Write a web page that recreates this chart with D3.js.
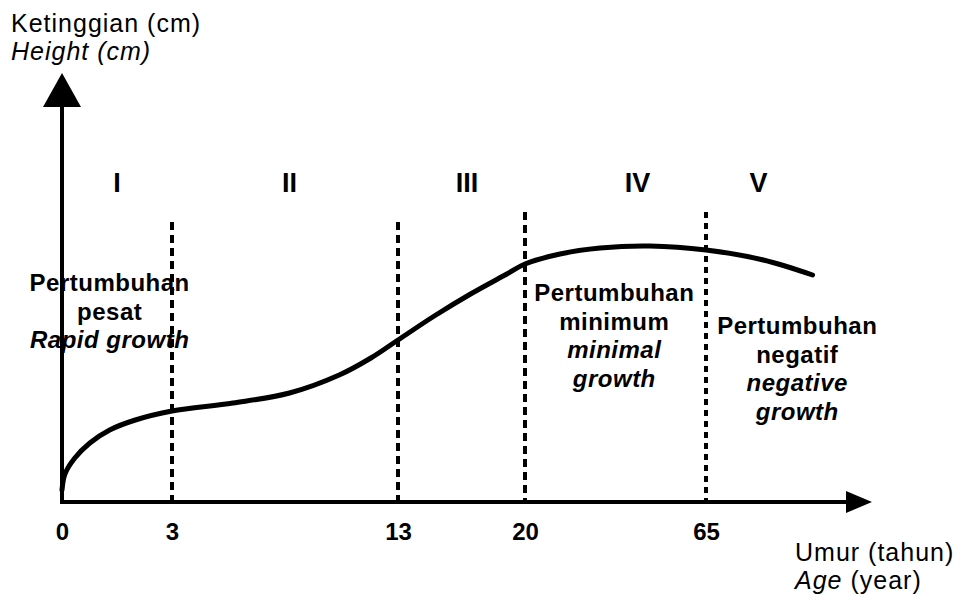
<!DOCTYPE html>
<html lang = 'id'>
    <head>
        <meta charset = 'UTF-8'>
        <title>Growth Curve</title>
        <script src="https://d3js.org/d3.v7.min.js"></script>
        <style>
            body {
                margin: 0;
                background-color: white;
                font-family: 'Liberation Sans', Arial, sans-serif;
            }
            .phase {
                font-size: 27px;
                font-weight: bold;
            }
            .note {
                font-size: 24px;
                font-weight: bold;
                letter-spacing: 0.5px;
            }
            .title {
                font-size: 25px;
                letter-spacing: 1px;
            }
        </style>
    </head>
    <body>
        <svg id = 'chart' width = '960' height = '597'></svg>
        <script>
            // growth curve (age in years, relative height)
            let ages    = [0, 0.08, 0.35, 0.76, 1.3, 2, 3, 5.7, 8.2, 10.4, 11.8, 13, 15, 17, 19, 20, 28.7, 38.7, 51, 65, 79.2, 91.4]
            let heights = [3, 7, 11, 14.75, 18, 20.5, 22.75, 24.75, 27.25, 31.75, 36, 40.5, 46.5, 52, 57, 59.5, 62, 63.5, 64, 63, 60.5, 56.75]

            let tickAges = [0, 3, 13, 20, 65]
            let boundaryAges = [3, 13, 20, 65]
            let phases = ['I', 'II', 'III', 'IV', 'V']
            let phaseAges = [1.5, 8.2, 16.8, 48, 78]

            let notes = [
                {age: 1.3, lines: ['Pertumbuhan', 'pesat', 'Rapid growth'], italic: [2], top: 291},
                {age: 42.2, lines: ['Pertumbuhan', 'minimum', 'minimal', 'growth'], italic: [2, 3], top: 301},
                {age: 87.6, lines: ['Pertumbuhan', 'negatif', 'negative', 'growth'], italic: [2, 3], top: 334}
            ]

            let svg = d3.select('#chart')

            // age axis is not to scale, each stretch has its own width
            let x = d3.scaleLinear()
                .domain([0, 3, 13, 20, 65, 92])
                .range([62, 172, 398, 525, 706, 815])
            let y = d3.scaleLinear()
                .domain([0, 100])
                .range([502, 102])

            // dashed stage boundaries
            svg.selectAll('.boundary')
                .data(boundaryAges)
                .enter()
                .append('line')
                .attr('class', 'boundary')
                .attr('x1', d => x(d))
                .attr('x2', d => x(d))
                .attr('y1', d => d == 3 || d == 13 ? 222 : 212)
                .attr('y2', 500)
                .attr('stroke', 'black')
                .attr('stroke-width', 4)
                .attr('stroke-dasharray', d => d == 65 ? '6,5' : '8,5')

            // axes
            svg.append('line')
                .attr('x1', x(0)).attr('x2', x(0))
                .attr('y1', 100).attr('y2', 504)
                .attr('stroke', 'black')
                .attr('stroke-width', 4)
            svg.append('path')
                .attr('d', `M${x(0)},73 L${x(0) - 19},107 L${x(0) + 19},107 Z`)
                .attr('fill', 'black')
            svg.append('line')
                .attr('x1', x(0) - 2).attr('x2', 850)
                .attr('y1', 502).attr('y2', 502)
                .attr('stroke', 'black')
                .attr('stroke-width', 4)
            svg.append('path')
                .attr('d', 'M872,502 L846,491 L846,513 Z')
                .attr('fill', 'black')

            let xAxis = svg.append('g')
                .attr('transform', 'translate(0,520)')
                .call(d3.axisBottom(x).tickValues(tickAges).tickSize(0).tickFormat(d3.format('d')))
            xAxis.select('.domain').remove()
            xAxis.selectAll('text')
                .attr('fill', 'black')
                .style('font-family', "'Liberation Sans', Arial, sans-serif")
                .style('font-size', '24px')
                .style('font-weight', 'bold')

            // growth curve
            let line = d3.line()
                .x((d, i) => x(ages[i]))
                .y(d => y(d))
                .curve(d3.curveCatmullRom.alpha(0.5))
            svg.append('path')
                .attr('d', line(heights))
                .attr('fill', 'none')
                .attr('stroke', 'black')
                .attr('stroke-width', 5)
                .attr('stroke-linecap', 'round')

            // stage numerals
            svg.selectAll('.phase')
                .data(phases)
                .enter()
                .append('text')
                .attr('class', 'phase')
                .attr('x', (d, i) => x(phaseAges[i]))
                .attr('y', 192)
                .attr('text-anchor', 'middle')
                .text(d => d)

            // stage descriptions
            notes.forEach(n => {
                let t = svg.append('text')
                    .attr('class', 'note')
                    .attr('text-anchor', 'middle')
                n.lines.forEach((s, i) => {
                    t.append('tspan')
                        .attr('x', x(n.age))
                        .attr('y', n.top + i * 28.5)
                        .style('font-style', n.italic.includes(i) ? 'italic' : 'normal')
                        .text(s)
                })
            })

            // axis titles
            svg.append('text').attr('class', 'title').attr('x', 11).attr('y', 32).text('Ketinggian (cm)')
            svg.append('text').attr('class', 'title').attr('x', 11).attr('y', 60)
                .style('font-style', 'italic').text('Height (cm)')
            svg.append('text').attr('class', 'title').attr('x', 795).attr('y', 561).text('Umur (tahun)')
            let age = svg.append('text').attr('class', 'title').attr('x', 795).attr('y', 589)
            age.append('tspan').style('font-style', 'italic').text('Age')
            age.append('tspan').text(' (year)')
        </script>
    </body>
</html>
